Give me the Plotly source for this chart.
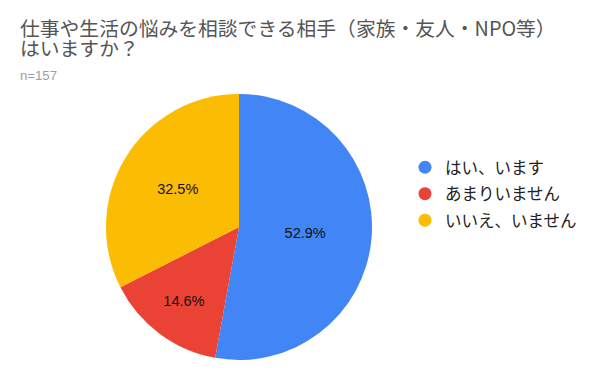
import plotly.graph_objects as go

labels = ["はい、います", "あまりいません", "いいえ、いません"]
counts = [83, 23, 51]
colors = ["#4285F4", "#EA4335", "#FBBC04"]
title_lines = ["仕事や生活の悩みを相談できる相手（家族・友人・NPO等）", "はいますか？"]
subtitle_text = "n=157"

W, H = 616, 380
fig = go.Figure()
fig.add_trace(go.Pie(
    labels=labels, values=counts, sort=False, direction="clockwise", rotation=0,
    marker=dict(colors=colors, line=dict(width=0)),
    texttemplate="%{percent:.1%}", textposition="inside", insidetextorientation="horizontal",
    textfont=dict(family="Liberation Sans, Arial", size=14.5, color="#111111"),
    showlegend=False, hoverinfo="label+percent",
    domain=dict(x=[106 / W, 372 / W], y=[1 - 360 / H, 1 - 94 / H]),
))
for i, (lab, col) in enumerate(zip(labels, colors)):
    fig.add_trace(go.Scatter(
        x=[None], y=[None], mode="markers", name=lab, legendgroup=f"g{i}",
        marker=dict(color=col, size=13, symbol="circle"),
    ))

title_font = dict(family="Noto Sans CJK JP", size=19.8, color="#555555")
fig.update_layout(
    width=W, height=H, margin=dict(l=0, r=0, t=0, b=0),
    paper_bgcolor="white", plot_bgcolor="white",
    xaxis=dict(visible=False), yaxis=dict(visible=False),
    legend=dict(x=405 / W, y=1 - 150 / H, xanchor="left", yanchor="top",
                font=dict(family="Noto Sans CJK JP", size=16.5, color="#222222"),
                tracegroupgap=2, bgcolor="rgba(0,0,0,0)"),
    annotations=[
        dict(text=title_lines[0], x=18 / W, y=1 - 27 / H, xref="paper", yref="paper",
             xanchor="left", yanchor="middle", showarrow=False, align="left",
             font=title_font),
        dict(text=title_lines[1], x=18 / W, y=1 - 47 / H, xref="paper", yref="paper",
             xanchor="left", yanchor="middle", showarrow=False, align="left",
             font=title_font),
        dict(text=subtitle_text, x=18 / W, y=1 - 75 / H, xref="paper", yref="paper",
             xanchor="left", yanchor="middle", showarrow=False, align="left",
             font=dict(family="Liberation Sans, Arial", size=13.2, color="#9e9e9e")),
    ],
)
fig.write_html("out.html", config={"displayModeBar": False},
               post_script="document.body.style.margin='0';")
